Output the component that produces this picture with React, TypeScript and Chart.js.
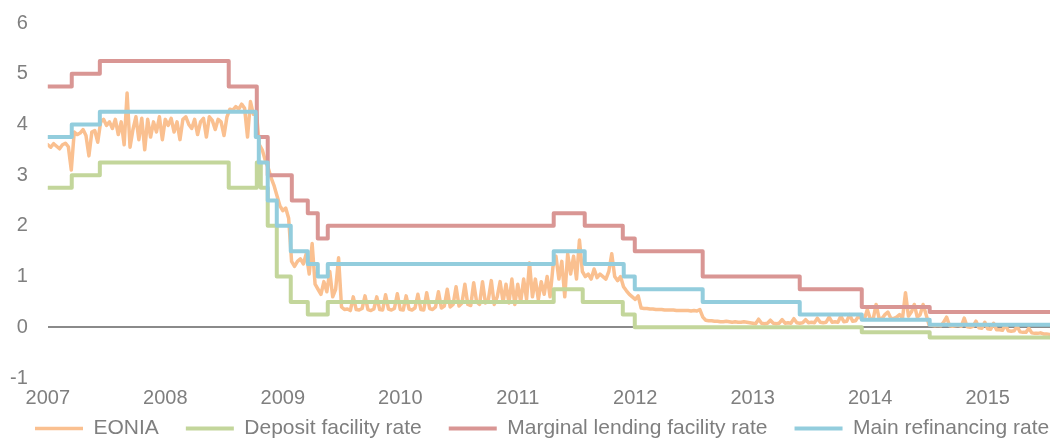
import { useEffect, useRef } from "react";
import { Chart, registerables } from "chart.js";

Chart.register(...registerables);

// EONIA sampled at 40 points per year starting Jan 2007
const eoniaStartYear = 2007;
const eoniaPointsPerYear = 40;
const eonia = [
  // 2007
  3.6, 3.55, 3.62, 3.57, 3.52, 3.6, 3.63, 3.56, 3.1, 3.85, 3.8, 3.83, 3.9, 3.78, 3.38, 3.85, 3.88, 3.65, 4.05, 4.1,
  3.98, 4.05, 3.92, 4.1, 3.8, 4.05, 3.6, 4.62, 3.55, 3.9, 4.15, 3.7, 4.12, 3.5, 4.1, 3.75, 4.05, 3.85, 4.15, 3.7,
  // 2008
  4.1, 3.98, 4.12, 3.85, 4.05, 3.7, 4.1, 4.15, 4.0, 3.92, 4.1, 3.8, 4.05, 4.12, 3.75, 4.15, 4.08, 3.9, 4.1, 4.05,
  3.78, 4.15, 4.3, 4.28, 4.35, 4.3, 4.4, 4.32, 3.75, 4.45, 4.2, 4.25, 3.6, 3.5, 3.3, 3.15, 2.95, 2.8, 2.6, 2.4,
  // 2009
  2.3, 2.35, 2.15, 1.3, 1.2, 1.3, 1.35, 1.25, 1.45, 1.05, 1.65, 0.85, 0.75, 0.65, 0.9, 0.7, 1.1, 0.6, 0.75, 1.37,
  0.4, 0.35, 0.36, 0.33, 0.6, 0.35, 0.34, 0.37, 0.62, 0.35, 0.33, 0.36, 0.6, 0.35, 0.34, 0.64, 0.36, 0.34, 0.37, 0.66,
  // 2010
  0.35, 0.34, 0.62, 0.36, 0.34, 0.38, 0.65, 0.35, 0.34, 0.68, 0.37, 0.35, 0.4, 0.7, 0.38, 0.42, 0.75, 0.4, 0.45, 0.8,
  0.42, 0.48, 0.85, 0.45, 0.43, 0.88, 0.5, 0.45, 0.9, 0.48, 0.55, 0.92, 0.45, 0.6, 0.9, 0.5, 0.85, 0.48, 0.95, 0.45,
  // 2011
  0.85, 0.5, 0.95, 0.55, 1.27, 0.6, 0.95, 0.55, 0.9, 0.65, 1.0, 0.6, 1.2, 1.4, 0.95, 1.3, 0.6, 1.45, 1.05, 1.4,
  0.95, 1.72, 1.1, 1.0, 1.05, 0.95, 1.15, 0.98, 1.05, 1.0, 0.95, 1.1, 1.45, 1.0, 0.92, 1.0, 0.8, 0.72, 0.65, 0.6,
  // 2012
  0.55, 0.62, 0.38, 0.37, 0.37, 0.36, 0.36, 0.35, 0.35, 0.35, 0.34, 0.34, 0.34, 0.34, 0.33, 0.33, 0.33, 0.33, 0.33, 0.32,
  0.33, 0.32, 0.35, 0.2, 0.14, 0.13, 0.13, 0.12, 0.12, 0.11, 0.11, 0.12, 0.11, 0.1, 0.11, 0.1, 0.1, 0.11, 0.1, 0.09,
  // 2013
  0.08, 0.07, 0.16, 0.08, 0.07, 0.08, 0.14, 0.08, 0.07, 0.08, 0.15, 0.08, 0.09, 0.08, 0.17, 0.09, 0.08, 0.09, 0.15, 0.09,
  0.1, 0.09, 0.18, 0.1, 0.09, 0.1, 0.2, 0.1, 0.11, 0.1, 0.22, 0.11, 0.12, 0.25, 0.12, 0.13, 0.22, 0.17, 0.16, 0.35,
  // 2014
  0.17, 0.16, 0.45, 0.18, 0.17, 0.25, 0.3, 0.18, 0.17, 0.2, 0.25, 0.18, 0.68, 0.22, 0.3, 0.45, 0.2, 0.25, 0.45, 0.25,
  0.05, 0.04, 0.03, 0.04, 0.03, 0.1, 0.2, 0.03, 0.02, 0.03, 0.04, 0.02, 0.18, 0.01, 0.0, 0.02, 0.12, -0.01, -0.02, 0.1,
  // 2015
  -0.03, -0.04, 0.08, -0.05, -0.05, -0.06, 0.05, -0.07, -0.08, -0.07, 0.02, -0.09, -0.1, -0.1, -0.02, -0.11, -0.12,
  -0.12, -0.11, -0.13, -0.13, -0.14,
];

// Policy rates: date of each level (decimal year) and the level held from that date
const depositDates = [
  2007.0, 2007.204, 2007.443, 2008.54, 2008.779, 2008.813, 2008.872, 2008.949, 2009.068, 2009.213, 2009.383,
  2011.306, 2011.553, 2011.894, 2011.996, 2013.928, 2014.506, 2015.53,
];
const depositRates = [2.75, 3.0, 3.25, 2.75, 3.25, 2.75, 2.0, 1.0, 0.5, 0.25, 0.5, 0.75, 0.5, 0.25, 0.0, -0.1, -0.2, -0.2];

const lendingDates = [
  2007.0, 2007.204, 2007.443, 2008.54, 2008.779, 2008.872, 2009.077, 2009.213, 2009.298, 2009.383, 2011.306,
  2011.57, 2011.894, 2011.996, 2012.574, 2013.4, 2013.928, 2014.506, 2015.53,
];
const lendingRates = [4.75, 5.0, 5.25, 4.75, 3.75, 3.0, 2.5, 2.25, 1.75, 2.0, 2.25, 2.0, 1.75, 1.5, 1.0, 0.75, 0.4, 0.3, 0.3];

const refiDates = [
  2007.0, 2007.204, 2007.443, 2008.77, 2008.796, 2008.872, 2008.949, 2009.068, 2009.213, 2009.298, 2009.383,
  2011.306, 2011.57, 2011.902, 2011.996, 2012.574, 2013.4, 2013.928, 2014.506, 2015.53,
];
const refiRates = [3.75, 4.0, 4.25, 3.75, 3.25, 2.5, 2.0, 1.5, 1.25, 1.0, 1.25, 1.5, 1.25, 1.0, 0.75, 0.5, 0.25, 0.15, 0.05, 0.05];

const seriesNames = ["EONIA", "Deposit facility rate", "Marginal lending facility rate", "Main refinancing rate"];
const seriesColors = ["#FAC090", "#C3D69B", "#D99694", "#93CDDD"];

const xMin = 2007;
const xMax = 2015.53;
const yMin = -1;
const yMax = 6;

const FONT = '"Liberation Sans", Arial, sans-serif';
const TEXT = "#7f7f7f";
const LEGEND_PAD = 27;
const LEGEND_BOX_H = 33;
const LEGEND_ITEM_TOP = 418;
const LEGEND_START_X = 35;

// Legend: one compact row with custom horizontal gaps
const legendCompact = {
  id: "legendCompact",
  afterInit(chart: any) {
    const lg = chart.legend;
    if (!lg) return;
    const orig = lg.fit.bind(lg);
    lg.fit = () => {
      const mw = lg.maxWidth;
      lg.maxWidth = 5000;
      orig();
      lg.maxWidth = mw;
      lg.width = mw;
      lg.height = LEGEND_BOX_H;
    };
  },
  afterLayout(chart: any) {
    const lg = chart.legend;
    if (!lg || !lg.lineWidths) return;
    const R = chart.width + 200;
    lg.right = R;
    lg.left = 2 * LEGEND_START_X - LEGEND_PAD - R + lg.lineWidths[0];
    lg.top = LEGEND_ITEM_TOP - LEGEND_PAD;
    lg.bottom = chart.height;
  },
};

export default function App() {
  const ref = useRef<HTMLCanvasElement | null>(null);

  useEffect(() => {
    if (!ref.current) return;
    const toPts = (xs: number[], ys: number[]) => xs.map((x, i) => ({ x, y: ys[i] }));
    const eoniaPts = eonia.map((v, i) => ({ x: eoniaStartYear + i / eoniaPointsPerYear, y: v }));

    const chart = new Chart(ref.current, {
      type: "line",
      data: {
        datasets: [
          { label: seriesNames[0], data: eoniaPts, borderColor: seriesColors[0], backgroundColor: seriesColors[0], borderWidth: 3.5, order: 4 },
          { label: seriesNames[1], data: toPts(depositDates, depositRates), borderColor: seriesColors[1], backgroundColor: seriesColors[1], borderWidth: 4, stepped: "before", order: 3 },
          { label: seriesNames[2], data: toPts(lendingDates, lendingRates), borderColor: seriesColors[2], backgroundColor: seriesColors[2], borderWidth: 4, stepped: "before", order: 2 },
          { label: seriesNames[3], data: toPts(refiDates, refiRates), borderColor: seriesColors[3], backgroundColor: seriesColors[3], borderWidth: 4, stepped: "before", order: 1 },
        ] as any,
      },
      options: {
        animation: false,
        responsive: true,
        maintainAspectRatio: false,
        parsing: false as any,
        elements: {
          point: { radius: 0, hoverRadius: 0 },
          line: { tension: 0, fill: false, borderJoinStyle: "round", borderCapStyle: "round" },
        },
        layout: { padding: { top: 23, left: -10, right: 0, bottom: 0 } },
        scales: {
          x: {
            type: "linear",
            min: xMin,
            max: xMax,
            grid: { display: false, drawTicks: false },
            border: { display: false },
            afterFit: (s: any) => {
              s.height = 30;
            },
            ticks: {
              stepSize: 1,
              includeBounds: false,
              autoSkip: false,
              maxRotation: 0,
              padding: 8,
              color: TEXT,
              font: { family: FONT, size: 20 },
              callback: (v: any) => (Number.isInteger(v) ? String(v) : ""),
            },
          },
          y: {
            min: yMin,
            max: yMax,
            border: { display: false },
            afterFit: (s: any) => {
              s.paddingTop = 0;
              s.paddingBottom = 0;
            },
            grid: {
              drawTicks: false,
              color: (ctx: any) => (ctx.tick && ctx.tick.value === 0 ? "#8a8a8a" : "rgba(0,0,0,0)"),
              lineWidth: 2,
            },
            ticks: {
              stepSize: 1,
              padding: 20,
              color: TEXT,
              font: { family: FONT, size: 20 },
            },
          },
        },
        plugins: {
          tooltip: { enabled: false },
          legend: {
            position: "bottom",
            labels: {
              usePointStyle: true,
              pointStyle: "line",
              pointStyleWidth: 48,
              padding: LEGEND_PAD,
              color: TEXT,
              font: { family: FONT, size: 21 },
              sort: (a: any, b: any) => a.datasetIndex - b.datasetIndex,
            },
          } as any,
        },
      },
      plugins: [legendCompact],
    });
    return () => chart.destroy();
  }, []);

  return (
    <div style={{ position: "fixed", left: 0, top: 0, width: 1050, height: 441, background: "#fff" }}>
      <canvas ref={ref} />
    </div>
  );
}
